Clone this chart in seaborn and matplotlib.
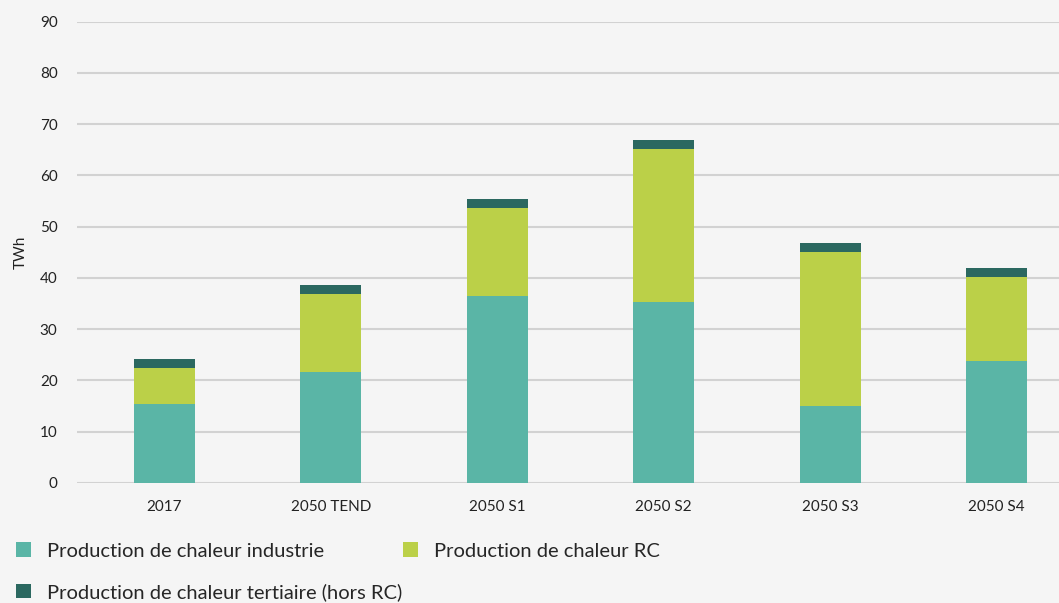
import matplotlib
matplotlib.use("Agg")
import matplotlib.pyplot as plt
import matplotlib.patches as mpatches
import seaborn as sns
import numpy as np
import pandas as pd

# values (TWh)
scenarios = ['2017', '2050 TEND', '2050 S1', '2050 S2', '2050 S3', '2050 S4']
industrie = [15.4, 21.6, 36.4, 35.3, 15.0, 23.8]
rc = [7.0, 15.2, 17.2, 29.8, 30.0, 16.3]
tertiaire = [1.75, 1.8, 1.8, 1.8, 1.8, 1.8]

labels = ['Production de chaleur industrie',
          'Production de chaleur RC',
          'Production de chaleur tertiaire (hors RC)']
colors = ['#5AB5A6', '#BBD048', '#2B6860']

df = pd.DataFrame({'scenario': scenarios, 'industrie': industrie,
                   'rc': rc, 'tertiaire': tertiaire})
df['bottom_rc'] = df['industrie']
df['bottom_tert'] = df['industrie'] + df['rc']

sns.set_theme(style='white')
plt.rcParams['font.family'] = ['Lato', 'DejaVu Sans']
bg = '#F5F5F5'

fig = plt.figure(figsize=(10.59, 6.03), dpi=100, facecolor=bg)
ax = fig.add_axes([77 / 1059, 120 / 603, 1 - 77 / 1059, (483 - 21.7) / 603])
ax.set_facecolor(bg)

w = 0.367
sns.barplot(data=df, x='scenario', y='industrie', color=colors[0],
            width=w, saturation=1, linewidth=0, ax=ax)
sns.barplot(data=df, x='scenario', y='rc', bottom=df['bottom_rc'],
            color=colors[1], width=w, saturation=1, linewidth=0, ax=ax)
sns.barplot(data=df, x='scenario', y='tertiaire', bottom=df['bottom_tert'],
            color=colors[2], width=w, saturation=1, linewidth=0, ax=ax)

ax.set_ylim(0, 90)
ax.set_xlim(-0.526, 5.375)
ax.set_yticks(np.arange(0, 91, 10))
ax.yaxis.grid(True, color='#D2D2D2', linewidth=1.5)
ax.set_axisbelow(True)
for s in ax.spines.values():
    s.set_visible(False)
ax.tick_params(axis='both', length=0, labelsize=11, colors='#222222')
ax.tick_params(axis='x', pad=12)
ax.tick_params(axis='y', pad=14)
ax.set_xlabel('')
ax.set_ylabel('TWh', fontsize=11, color='#222222', labelpad=9)

handles = [mpatches.Patch(color=c, label=l, linewidth=0) for c, l in zip(colors, labels)]
leg_kw = dict(frameon=False, fontsize=14.5, handlelength=0.75, handleheight=0.75,
              handletextpad=0.8, columnspacing=3.9, borderaxespad=0, borderpad=0)
# first row: industrie + RC, second row: tertiaire
fig.legend(handles[:2], labels[:2], ncol=2, loc='center left',
           bbox_to_anchor=(0.015, 1 - 551 / 603), **leg_kw)
fig.legend(handles[2:], labels[2:], ncol=1, loc='center left',
           bbox_to_anchor=(0.015, 1 - 592 / 603), **leg_kw)

fig.savefig('out.png', dpi=100, facecolor=bg)
